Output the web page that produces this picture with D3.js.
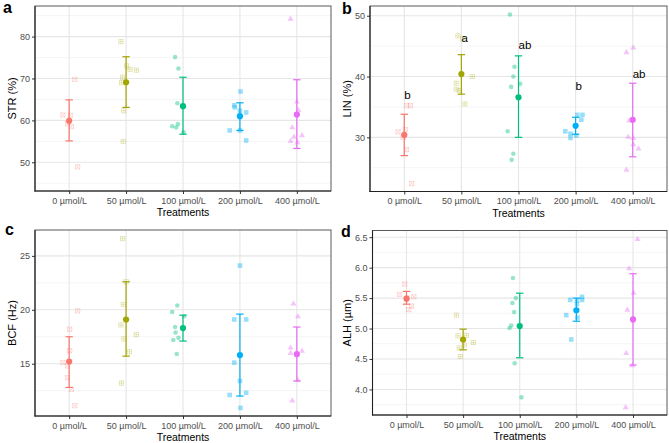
<!DOCTYPE html>
<html><head><meta charset="utf-8">
<script src="https://cdn.jsdelivr.net/npm/d3@7"></script>
<style>body{margin:0;background:#fff}svg{display:block;font-family:"Liberation Sans",Arial,sans-serif}</style>
</head><body><svg id="c" width="669" height="443"></svg>
<script>
const categories = ["0 µmol/L","50 µmol/L","100 µmol/L","200 µmol/L","400 µmol/L"];
const colors = ["#F8766D","#A3A500","#00BF7D","#00B0F6","#E76BF3"];
const shapes = ["boxX","boxPlus","circle","square","triangle"];

// STR (%)
const strValues = [[69.8,61.3,61.2,59.2,58.5,48.9],[78.8,73.0,72.2,72.0,70.3,69.0,62.3,55.0],[75.1,72.4,64.1,58.6,58.3,59.1,57.2],[66.9,63.6,63.1,62.3,61.9,57.6,57.6,55.2],[84.3,64.5,62.5,58.4,56.1,56.5,55.1,54.8]];
const strJitter = [[0.10,-0.11,0.02,-0.03,0.04,0.15],[-0.09,0.01,0.07,0.18,-0.06,-0.08,-0.04,-0.05],[-0.14,-0.08,-0.10,-0.19,-0.12,-0.09,0.01],[0.01,-0.10,-0.09,0,0.11,-0.18,0,0.11],[-0.11,0,0.03,-0.08,-0.05,0.09,-0.11,0.01]];
const strMean = [59.9,69.1,63.4,61.0,61.4];
const strLow = [55.1,63.1,56.7,57.6,53.3];
const strHigh = [64.9,75.2,70.3,64.2,69.7];

// LIN (%)
const linValues = [[35.2,35.2,30.9,31.3,30.0,28.0,22.4],[46.7,46.2,38.9,37.9,37.7,40.0,35.5],[50.2,41.6,40.0,38.8,38.3,31.0,27.3,26.3],[31.0,30.6,29.9,33.7,33.7,32.9,30.3],[44.0,44.8,32.8,29.9,30.1,28.9,28.2,24.7]];
const linJitter = [[0.04,0.11,-0.11,0.02,-0.02,0.04,0.13],[-0.06,0.02,-0.09,-0.09,-0.03,0.19,0.06],[-0.15,-0.07,-0.09,0.03,-0.13,-0.19,-0.09,-0.12],[-0.18,-0.09,-0.09,0.03,0.12,0.10,0.01],[-0.11,0.01,-0.06,0.01,-0.08,0.01,0.10,-0.11]];
const linMean = [30.4,40.4,36.6,31.9,32.9];
const linLow = [27.0,37.1,30.0,30.5,26.8];
const linHigh = [33.8,43.6,43.4,33.3,38.9];
const linLetters = ["b","a","ab","b","ab"];
const linLetterY = [37.0,46.3,45.2,38.4,40.5];

// BCF (Hz)
const bcfValues = [[19.9,18.2,16.2,15.1,14.8,13.7,12.6,11.1],[26.6,20.5,18.6,17.7,17.3,16.1,13.2,22.6],[20.4,19.8,18.4,17.9,17.4,17.2,15.9,19.4],[24.1,19.1,19.1,15.1,13.4,12.1,12.3,10.9],[20.6,19.4,16.5,16.0,16.2,13.5,11.6,15.8]];
const bcfJitter = [[0.15,0.01,0.01,-0.11,-0.03,-0.03,0.04,0.10],[-0.06,-0.05,-0.09,0.18,-0.04,0.06,-0.08,0],[-0.10,-0.19,-0.14,-0.13,-0.08,-0.17,-0.11,0.02],[0,-0.10,0.11,-0.10,0,-0.18,0.11,0.01],[-0.06,0.02,-0.11,-0.11,0.09,0.02,-0.08,0]];
const bcfMean = [15.2,19.1,18.3,15.8,15.9];
const bcfLow = [12.8,15.7,17.1,12.0,13.4];
const bcfHigh = [17.5,22.6,19.5,19.6,18.4];

// ALH (µm)
const alhValues = [[5.73,5.56,5.52,5.50,5.37,5.31],[5.22,4.88,4.89,4.68,4.73,4.77,4.54],[5.83,5.50,5.42,5.27,5.05,5.01,4.43,3.87],[5.52,5.47,5.46,5.40,5.47,5.22,5.18,4.82],[6.47,5.99,5.59,5.31,4.60,4.40,3.71]];
const alhJitter = [[-0.03,-0.12,0.13,0.01,0.09,0.04],[-0.12,-0.09,0.06,-0.07,0.02,0.18,-0.05],[-0.12,-0.07,-0.13,-0.10,-0.15,-0.18,-0.09,0.03],[0.10,-0.11,0.01,0.01,0.10,-0.18,0.02,-0.09],[0.08,-0.07,0.01,-0.10,-0.12,-0.01,-0.13]];
const alhMean = [5.49,4.82,5.04,5.30,5.15];
const alhLow = [5.40,4.65,4.52,5.12,4.40];
const alhHigh = [5.61,4.99,5.58,5.50,5.90];

const yMajorA = [50,60,70,80], yMinorA = [45,55,65,75,85];
const yMajorB = [30,40,50], yMinorB = [25,35,45];
const yMajorC = [15,20,25], yMinorC = [12.5,17.5,22.5];
const yMajorD = [4.0,4.5,5.0,5.5,6.0,6.5], yMinorD = [3.75,4.25,4.75,5.25,5.75,6.25];

const panels = [
  {tag:"a", title:"STR (%)", vals:strValues, jit:strJitter, mean:strMean, lo:strLow, hi:strHigh, domain:[43.15,87.3], major:yMajorA, minor:yMinorA, fmt:d=>d,
   box:{l:35,r:331,t:6,b:191}, titleX:16, tagPos:[3,13]},
  {tag:"b", title:"LIN (%)", vals:linValues, jit:linJitter, mean:linMean, lo:linLow, hi:linHigh, domain:[21.1,51.6], major:yMajorB, minor:yMinorB, fmt:d=>d,
   box:{l:370,r:667,t:6,b:191.5}, titleX:351, tagPos:[342,14], letters:linLetters, letterY:linLetterY},
  {tag:"c", title:"BCF (Hz)", vals:bcfValues, jit:bcfJitter, mean:bcfMean, lo:bcfLow, hi:bcfHigh, domain:[10.15,27.4], major:yMajorC, minor:yMinorC, fmt:d=>d,
   box:{l:35,r:331,t:230,b:416}, titleX:16, tagPos:[5,235]},
  {tag:"d", title:"ALH (µm)", vals:alhValues, jit:alhJitter, mean:alhMean, lo:alhLow, hi:alhHigh, domain:[3.58,6.61], major:yMajorD, minor:yMinorD, fmt:d3.format(".1f"),
   box:{l:372.5,r:667,t:230.5,b:415}, titleX:351, tagPos:[341,237]}
];

const svg = d3.select("#c");
svg.append("rect").attr("width",669).attr("height",443).attr("fill","#fff");

function drawShape(g, type, x, y, color){
  const s = 4.3;
  if(type==="circle"){
    g.append("circle").attr("cx",x).attr("cy",y).attr("r",2.3).attr("fill",color).attr("fill-opacity",0.4);
  } else if(type==="square"){
    g.append("rect").attr("x",x-2.3).attr("y",y-2.3).attr("width",4.6).attr("height",4.6).attr("fill",color).attr("fill-opacity",0.4);
  } else if(type==="triangle"){
    const h = 5.2;
    g.append("path").attr("d",`M${x},${y-h*0.6}L${x+h*0.58},${y+h*0.4}L${x-h*0.58},${y+h*0.4}Z`).attr("fill",color).attr("fill-opacity",0.4);
  } else {
    const gg = g.append("g").attr("stroke",color).attr("stroke-opacity",0.35).attr("stroke-width",0.7).attr("fill","none");
    gg.append("rect").attr("x",x-s/2).attr("y",y-s/2).attr("width",s).attr("height",s);
    if(type==="boxX"){
      gg.append("path").attr("d",`M${x-s/2},${y-s/2}L${x+s/2},${y+s/2}M${x+s/2},${y-s/2}L${x-s/2},${y+s/2}`);
    } else {
      gg.append("path").attr("d",`M${x},${y-s/2}L${x},${y+s/2}M${x-s/2},${y}L${x+s/2},${y}`);
    }
  }
}

panels.forEach(p=>{
  const B = p.box;
  const g = svg.append("g");
  const x = d3.scaleLinear().domain([0.4,5.6]).range([B.l,B.r]);
  const y = d3.scaleLinear().domain(p.domain).range([B.b,B.t]);

  g.selectAll(".mn").data(p.minor).join("line")
    .attr("x1",B.l).attr("x2",B.r).attr("y1",d=>y(d)).attr("y2",d=>y(d))
    .attr("stroke","#F2F2F2").attr("stroke-width",0.8);
  g.selectAll(".mj").data(p.major).join("line")
    .attr("x1",B.l).attr("x2",B.r).attr("y1",d=>y(d)).attr("y2",d=>y(d))
    .attr("stroke","#E6E6E6").attr("stroke-width",1.1);
  g.selectAll(".vx").data(categories).join("line")
    .attr("x1",(d,i)=>x(i+1)).attr("x2",(d,i)=>x(i+1)).attr("y1",B.t).attr("y2",B.b)
    .attr("stroke","#E6E6E6").attr("stroke-width",1.1);

  g.append("rect").attr("x",B.l).attr("y",B.t).attr("width",B.r-B.l).attr("height",B.b-B.t)
    .attr("fill","none").attr("stroke","#5a5a5a").attr("stroke-width",1);

  p.vals.forEach((arr,gi)=>{
    arr.forEach((v,k)=>{
      drawShape(g, shapes[gi], x(gi+1+p.jit[gi][k]), y(v), colors[gi]);
    });
  });

  p.mean.forEach((m,gi)=>{
    const cx = x(gi+1), cw = x(gi+1.065)-x(gi+1);
    const eg = g.append("g").attr("stroke",colors[gi]).attr("stroke-width",1.2);
    eg.append("line").attr("x1",cx).attr("x2",cx).attr("y1",y(p.lo[gi])).attr("y2",y(p.hi[gi]));
    eg.append("line").attr("x1",cx-cw).attr("x2",cx+cw).attr("y1",y(p.lo[gi])).attr("y2",y(p.lo[gi]));
    eg.append("line").attr("x1",cx-cw).attr("x2",cx+cw).attr("y1",y(p.hi[gi])).attr("y2",y(p.hi[gi]));
    g.append("circle").attr("cx",cx).attr("cy",y(m)).attr("r",3.1).attr("fill",colors[gi]);
  });

  if(p.letters){
    g.selectAll(".lt").data(p.letters).join("text")
      .attr("x",(d,i)=>x(i+1)).attr("y",(d,i)=>y(p.letterY[i]))
      .attr("dy","0.36em").attr("font-size",11.5).attr("fill","#000").text(d=>d);
  }

  const ya = g.append("g").attr("transform",`translate(${B.l},0)`)
    .call(d3.axisLeft(y).tickValues(p.major).tickFormat(p.fmt).tickSize(3).tickPadding(2));
  const xa = g.append("g").attr("transform",`translate(0,${B.b})`)
    .call(d3.axisBottom(x).tickValues([1,2,3,4,5]).tickFormat(i=>categories[i-1]).tickSize(3).tickPadding(3.5));
  [ya,xa].forEach(a=>{
    a.select(".domain").remove();
    a.selectAll(".tick line").attr("stroke","#333");
    a.selectAll("text").attr("fill","#4D4D4D").attr("font-size",9).attr("font-family","Liberation Sans, Arial, sans-serif");
  });
  g.append("line").attr("x1",B.l).attr("x2",B.l).attr("y1",B.t).attr("y2",B.b+0.5).attr("stroke","#222").attr("stroke-width",1.1);
  g.append("line").attr("x1",B.l-0.5).attr("x2",B.r).attr("y1",B.b).attr("y2",B.b).attr("stroke","#222").attr("stroke-width",1.1);

  g.append("text").attr("x",(B.l+B.r)/2).attr("y",B.b+25).attr("text-anchor","middle")
    .attr("font-size",10.5).attr("fill","#000").text("Treatments");
  g.append("text").attr("transform",`translate(${p.titleX},${(B.t+B.b)/2}) rotate(-90)`)
    .attr("text-anchor","middle").attr("font-size",11).attr("fill","#000").text(p.title);
  g.append("text").attr("x",p.tagPos[0]).attr("y",p.tagPos[1]).attr("font-size",16).attr("font-weight","bold")
    .attr("fill","#000").text(p.tag);
});
</script></body></html>
